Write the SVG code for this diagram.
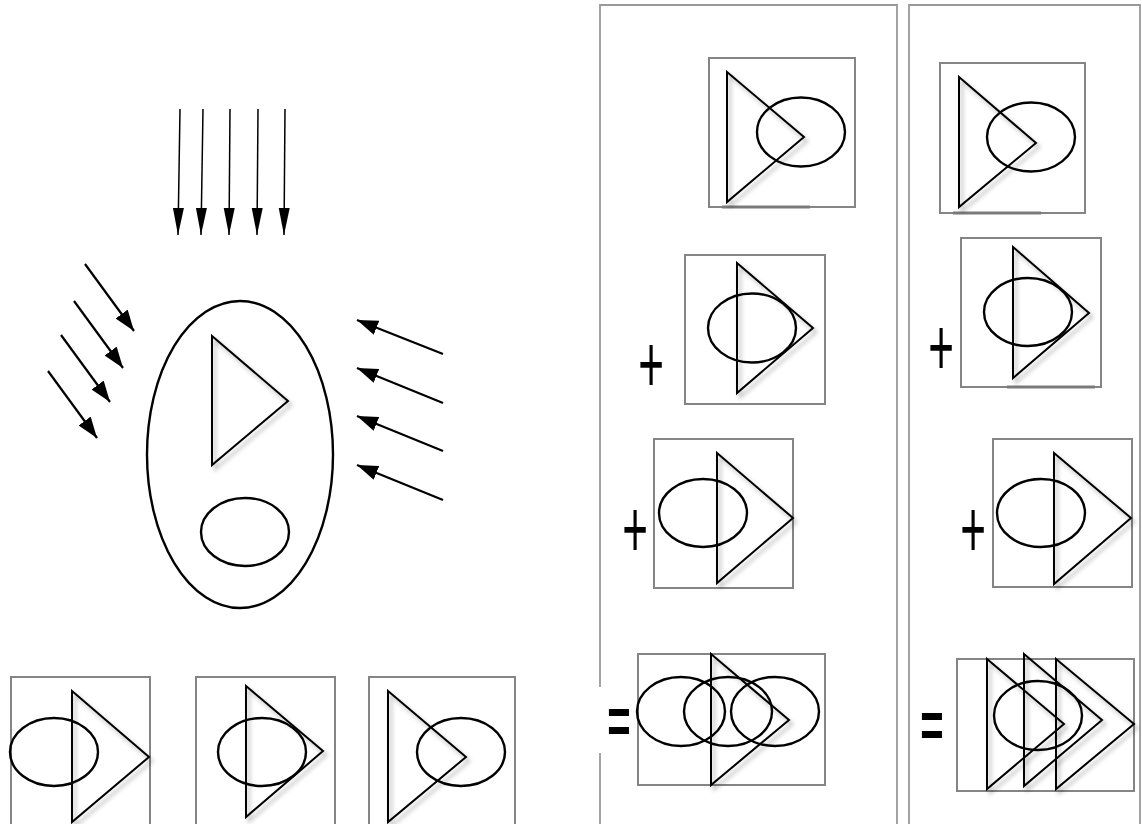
<svg xmlns="http://www.w3.org/2000/svg" width="1142" height="824" viewBox="0 0 1142 824">
<style>
.tri{fill:none;stroke:#000;stroke-width:2;stroke-linejoin:miter;filter:url(#sh)}
.ell{fill:none;stroke:#000;stroke-width:2.4}
.box{fill:none;stroke:#858585;stroke-width:2}
.panel{fill:none;stroke:#999;stroke-width:1.8}
.dark{stroke:#7a7a7a;stroke-width:3}
.op{font-family:"Liberation Sans",Arial,sans-serif;fill:#000;text-anchor:middle}
.va{stroke:#000;stroke-width:1.5;fill:none;marker-end:url(#headV)}
.da{stroke:#000;stroke-width:2.2;fill:none;marker-end:url(#headD)}
</style>
<defs>
<filter id="sh" x="-20%" y="-20%" width="150%" height="150%">
<feDropShadow dx="3" dy="4" stdDeviation="2.2" flood-color="#000" flood-opacity="0.3"/>
</filter>
<marker id="headV" markerUnits="userSpaceOnUse" markerWidth="28" markerHeight="12" refX="27" refY="5.5" orient="auto">
<path d="M0,0 L27,5.5 L0,11 z" fill="#000"/>
</marker>
<marker id="headD" markerUnits="userSpaceOnUse" markerWidth="22" markerHeight="16" refX="21" refY="7.5" orient="auto">
<path d="M0,0 L21,7.5 L0,15 z" fill="#000"/>
</marker>
</defs>
<rect width="1142" height="824" fill="#fff"/>

<g id="connectors">
<line class="va" x1="180" y1="109" x2="178" y2="235"/>
<line class="va" x1="203" y1="109" x2="201" y2="235"/>
<line class="va" x1="230" y1="109" x2="229" y2="235"/>
<line class="va" x1="258" y1="109" x2="257" y2="235"/>
<line class="va" x1="285" y1="109" x2="284" y2="235"/>
<line class="da" x1="85" y1="264" x2="134" y2="331"/>
<line class="da" x1="74" y1="301" x2="123" y2="368"/>
<line class="da" x1="61" y1="335" x2="110" y2="402"/>
<line class="da" x1="48" y1="371" x2="97" y2="438"/>
<line class="da" x1="443" y1="354" x2="357" y2="320"/>
<line class="da" x1="443" y1="403" x2="357" y2="368"/>
<line class="da" x1="443" y1="451" x2="357" y2="416"/>
<line class="da" x1="443" y1="500" x2="357" y2="465"/>
</g>

<g id="cell">
<ellipse class="ell" cx="240" cy="454.5" rx="93" ry="153.5"/>
<polygon class="tri" points="212,336 288,401 212,465"/>
<ellipse class="ell" cx="245" cy="532" rx="44" ry="34"/>
</g>

<g id="bottom-a">
<rect class="box" x="11" y="677" width="139" height="160"/>
<polygon class="tri" points="72,691 149,757 72,822"/>
<ellipse class="ell" cx="54" cy="752" rx="44" ry="34"/>
</g>
<g id="bottom-b">
<rect class="box" x="196" y="677" width="139" height="160"/>
<polygon class="tri" points="246,686 323,751 246,817"/>
<ellipse class="ell" cx="262" cy="752" rx="44" ry="34"/>
</g>
<g id="bottom-c">
<rect class="box" x="369" y="677" width="146" height="160"/>
<polygon class="tri" points="388,691 466,757 388,822"/>
<ellipse class="ell" cx="461" cy="752" rx="44" ry="34"/>
</g>

<g id="panel-1">
<path class="panel" d="M600,830 V753 M600,687 V5 H897 V830"/>
</g>
<g id="p1-box1">
<rect class="box" x="709" y="58" width="146" height="149"/>
<line class="dark" x1="722" y1="207" x2="810" y2="207"/>
<polygon class="tri" points="727,72 804,137 727,202"/>
<ellipse class="ell" cx="801" cy="132" rx="44" ry="34.5"/>
</g>
<g id="p1-box2">
<text class="op" font-size="44" transform="translate(651,363) scale(1,1.85)" y="15.5">+</text>
<rect class="box" x="685" y="255" width="140" height="149"/>
<polygon class="tri" points="737,263 813,328 737,393"/>
<ellipse class="ell" cx="752" cy="328" rx="44" ry="34.5"/>
</g>
<g id="p1-box3">
<text class="op" font-size="44" transform="translate(635,528) scale(1,1.85)" y="15.5">+</text>
<rect class="box" x="654" y="439" width="139" height="149"/>
<polygon class="tri" points="717,453 793,518 717,583"/>
<ellipse class="ell" cx="703" cy="513" rx="44" ry="34"/>
</g>
<g id="p1-box4">
<text class="op" font-size="40" font-weight="bold" transform="translate(619,729) scale(1,1.6)" y="9">=</text>
<rect class="box" x="638" y="654" width="187" height="131"/>
<polygon class="tri" points="711,654 789,720 711,785"/>
<ellipse class="ell" cx="681" cy="711.5" rx="44" ry="34.5"/>
<ellipse class="ell" cx="728" cy="711.5" rx="44" ry="34.5"/>
<ellipse class="ell" cx="775" cy="711.5" rx="44" ry="34.5"/>
</g>

<g id="panel-2">
<path class="panel" d="M909,830 V5 H1140 V830"/>
</g>
<g id="p2-box1">
<rect class="box" x="940" y="63" width="145" height="150"/>
<line class="dark" x1="953" y1="213" x2="1041" y2="213"/>
<polygon class="tri" points="959,77 1036,143 959,207"/>
<ellipse class="ell" cx="1031" cy="137" rx="44" ry="34.5"/>
</g>
<g id="p2-box2">
<text class="op" font-size="44" transform="translate(941,346) scale(1,1.85)" y="15.5">+</text>
<rect class="box" x="961" y="238" width="140" height="149"/>
<line class="dark" x1="1007" y1="387" x2="1095" y2="387"/>
<polygon class="tri" points="1013,247 1089,313 1013,378"/>
<ellipse class="ell" cx="1028" cy="312" rx="44" ry="34"/>
</g>
<g id="p2-box3">
<text class="op" font-size="44" transform="translate(973,528) scale(1,1.85)" y="15.5">+</text>
<rect class="box" x="993" y="439" width="139" height="148"/>
<polygon class="tri" points="1054,453 1131,518 1054,584"/>
<ellipse class="ell" cx="1041" cy="513" rx="44" ry="34"/>
</g>
<g id="p2-box4">
<text class="op" font-size="40" font-weight="bold" transform="translate(932,733) scale(1,1.6)" y="9">=</text>
<rect class="box" x="957" y="659" width="177" height="132"/>
<polygon class="tri" points="987,659 1064,724 987,789"/>
<polygon class="tri" points="1024,654 1102,720 1024,786"/>
<polygon class="tri" points="1056,659 1134,724 1056,789"/>
<ellipse class="ell" cx="1038" cy="715.5" rx="44" ry="34.5"/>
</g>
</svg>
